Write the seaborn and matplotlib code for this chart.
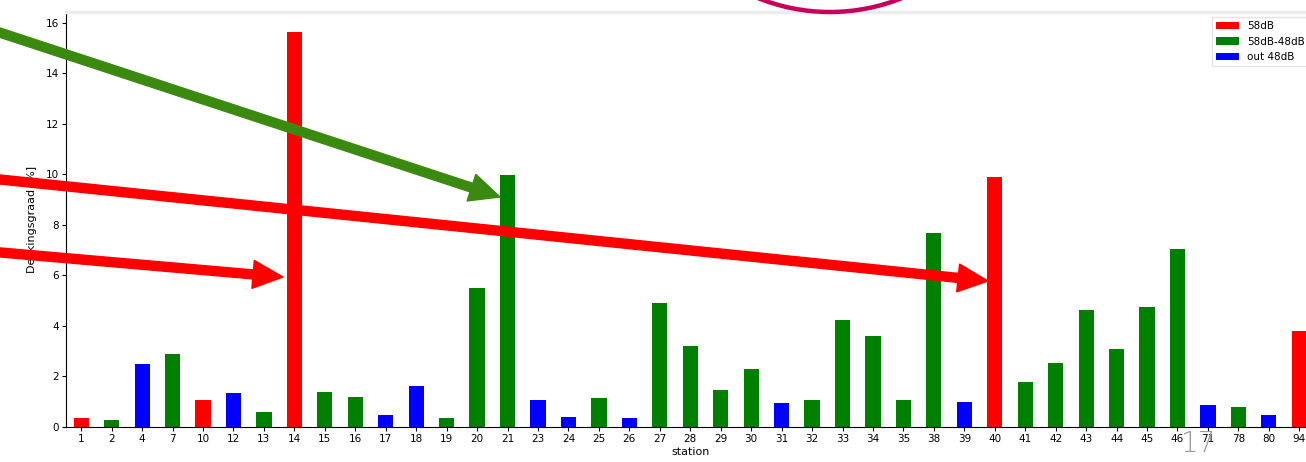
import numpy as np
import pandas as pd
import matplotlib
matplotlib.use("Agg")
import matplotlib.pyplot as plt
from matplotlib.patches import FancyArrow, Arc
from matplotlib.transforms import Affine2D
import seaborn as sns

# ── Datos ──
STATIONS = ["1", "2", "4", "7", "10", "12", "13", "14", "15", "16", "17", "18",
            "19", "20", "21", "23", "24", "25", "26", "27", "28", "29", "30", "31",
            "32", "33", "34", "35", "38", "39", "40", "41", "42", "43", "44", "45",
            "46", "71", "78", "80", "94"]
COVERAGE = [0.35, 0.28, 2.5, 2.9, 1.07, 1.35, 0.6, 15.65, 1.4, 1.2, 0.48, 1.62,
            0.36, 5.5, 9.98, 1.07, 0.4, 1.15, 0.35, 4.9, 3.2, 1.47, 2.28, 0.95,
            1.07, 4.23, 3.6, 1.07, 7.7, 1.0, 9.9, 1.8, 2.54, 4.62, 3.08, 4.74,
            7.05, 0.87, 0.8, 0.48, 3.8]
CLASS = ["58dB", "58dB-48dB", "out 48dB", "58dB-48dB", "58dB", "out 48dB",
         "58dB-48dB", "58dB", "58dB-48dB", "58dB-48dB", "out 48dB", "out 48dB",
         "58dB-48dB", "58dB-48dB", "58dB-48dB", "out 48dB", "out 48dB", "58dB-48dB",
         "out 48dB", "58dB-48dB", "58dB-48dB", "58dB-48dB", "58dB-48dB", "out 48dB",
         "58dB-48dB", "58dB-48dB", "58dB-48dB", "58dB-48dB", "58dB-48dB", "out 48dB",
         "58dB", "58dB-48dB", "58dB-48dB", "58dB-48dB", "58dB-48dB", "58dB-48dB",
         "58dB-48dB", "out 48dB", "58dB-48dB", "out 48dB", "58dB"]
CLASS_ORDER = ["58dB", "58dB-48dB", "out 48dB"]
PALETTE = {"58dB": "red", "58dB-48dB": "green", "out 48dB": "blue"}

df = pd.DataFrame({"station": STATIONS, "coverage": COVERAGE, "klasse": CLASS})

W, H = 1306, 462
fig = plt.figure(figsize=(W / 100, H / 100), dpi=100, facecolor="white")
# el recorte original corta el eje por la derecha
ax = fig.add_axes([66 / W, 35 / H, 1248.5 / W, 415 / H])

sns.barplot(data=df, x="station", y="coverage", hue="klasse", hue_order=CLASS_ORDER,
            order=STATIONS, palette=PALETTE, dodge=False, width=0.5,
            saturation=1, ax=ax)

ax.set_xlim(-0.5, len(STATIONS) - 0.5)
ax.set_ylim(0, 16.43)
ax.set_yticks(np.arange(0, 17, 2))
ax.set_xlabel("station", fontsize=8, labelpad=2)
ax.set_ylabel("Dekkingsgraad [%]", fontsize=8, labelpad=6)
ax.tick_params(axis="both", labelsize=7.5, length=3, width=0.8, pad=2)
ax.spines["top"].set_color("#ececec")
ax.spines["top"].set_linewidth(2.5)
ax.spines["right"].set_visible(False)
ax.legend(loc="upper right", fontsize=7.5, frameon=True, fancybox=False,
          edgecolor="#dddddd", handlelength=2.2)

# ── Anotaciones de la diapositiva (coordenadas de imagen en píxeles) ──
px = Affine2D().scale(1, -1).translate(0, H) + Affine2D().scale(1 / 100) + fig.dpi_scale_trans


def flecha(x0, y0, x1, y1, color):
    fig.add_artist(FancyArrow(x0, y0, x1 - x0, y1 - y0, width=9, head_width=28,
                              head_length=30, length_includes_head=True,
                              color=color, transform=px, clip_on=False))


flecha(-5, 31, 500, 197, "#3B8A10")
flecha(-5, 179, 988, 281, "#FF0000")
flecha(-5, 252, 283, 277, "#FF0000")

fig.add_artist(Arc((830, -181), 386, 386, theta1=0, theta2=180, color="#C8005A",
                   lw=3.2, transform=px))

fig.text(1181 / W, 10 / H, "17", color="#9a9a9a", fontsize=20,
         fontweight="light", va="baseline")

fig.savefig("out.png", dpi=100, facecolor="white")
